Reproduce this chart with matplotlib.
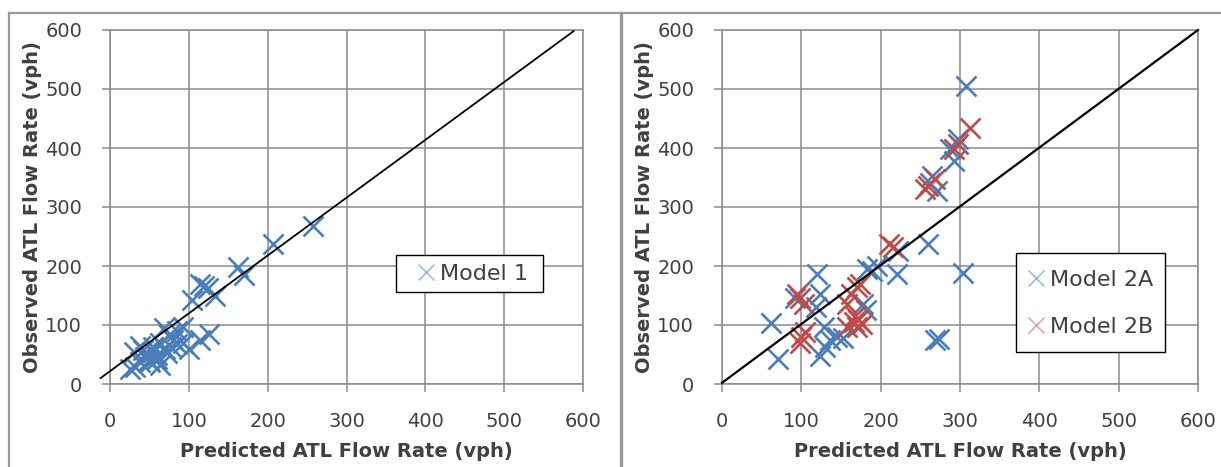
import matplotlib
matplotlib.use("Agg")
import matplotlib.pyplot as plt
from matplotlib.lines import Line2D
from matplotlib.patches import Rectangle

plt.rcParams['font.family'] = ['DejaVu Sans']

# ---- data ----
m1_x = [258, 207, 162, 170, 114, 119, 124, 133, 104,
        125, 114, 100, 93, 85, 93, 68, 75, 80, 63, 55, 38, 30, 46, 59, 72,
        38, 51, 25, 32, 63, 45, 55, 70, 85, 42, 50, 60, 78]
m1_y = [268, 238, 198, 185, 170, 166, 162, 150, 143,
        84, 74, 60, 70, 90, 97, 95, 83, 75, 70, 63, 65, 55, 52, 49, 52,
        38, 38, 25, 28, 33, 45, 55, 60, 68, 58, 40, 42, 62]

m2a_x = [307, 298, 292, 287, 265, 271, 262,
         260, 222, 220, 304, 189, 196,
         269, 273,
         62, 70, 120, 92, 124, 119, 128, 123, 136, 145, 153, 130, 183, 178, 182]
m2a_y = [505, 415, 378, 398, 353, 327, 340,
         237, 226, 187, 188, 192, 200,
         74, 77,
         103, 42, 187, 145, 153, 130, 97, 48, 74, 80, 78, 63, 195, 135, 125]

m2b_x = [313, 297, 292, 256, 260, 268, 210, 215,
         98, 103, 95, 100, 98, 105,
         163, 170, 174, 157, 166, 172, 170, 176, 157, 168]
m2b_y = [434, 406, 398, 330, 336, 347, 237, 233,
         145, 136, 153, 80, 70, 88,
         153, 164, 170, 136, 105, 108, 97, 102, 97, 115]

ticks = [0, 100, 200, 300, 400, 500, 600]
line1_x = [-12, 588]
line1_y = [10, 598]
line2_x = [0, 600]
line2_y = [2, 600]

BLUE = '#4a7ebb'
RED = '#be4b48'
GRID = '#8c8c8c'
TXT = '#404040'

W, H = 1221, 467
fig = plt.figure(figsize=(W / 100, H / 100), dpi=100)
fig.patch.set_facecolor('white')


def setup(ax):
    ax.set_xlim(0, 600)
    ax.set_ylim(0, 600)
    ax.set_xticks(ticks)
    ax.set_yticks(ticks)
    ax.grid(True, color=GRID, lw=1.1)
    ax.set_axisbelow(True)
    for s in ax.spines.values():
        s.set_color(GRID)
        s.set_linewidth(1.1)
    ax.tick_params(direction='out', length=6, width=1.1, color=GRID,
                   labelsize=14, labelcolor=TXT)
    ax.tick_params(axis='y', pad=14)
    ax.tick_params(axis='x', pad=14)
    ax.set_xlabel('Predicted ATL Flow Rate (vph)', fontsize=14,
                  fontweight='bold', color=TXT, labelpad=8)
    ax.set_ylabel('Observed ATL Flow Rate (vph)', fontsize=14,
                  fontweight='bold', color=TXT, labelpad=2)


def ax_rect(x0, x1, y0, y1):
    return [x0 / W, 1 - y1 / H, (x1 - x0) / W, (y1 - y0) / H]


def fig_pt(px, py):
    return (px / W, 1 - py / H)


def frame_box(x0, x1, y0, y1):
    fig.add_artist(Rectangle(fig_pt(x0, y1), (x1 - x0) / W, (y1 - y0) / H,
                             transform=fig.transFigure, facecolor='white',
                             edgecolor='black', lw=1.0, zorder=5))


ms = 14
mew = 1.9
FS_LEG = 16
HL = 1.2
em = FS_LEG * 100 / 72

ax1 = fig.add_axes(ax_rect(110, 583, 30, 384))
setup(ax1)
ax1.plot(m1_x, m1_y, ls='none', marker='x', ms=ms, mew=mew, color=BLUE,
         clip_on=False, zorder=3)
ax1.plot(line1_x, line1_y, color='black', lw=1.3, clip_on=False, zorder=4)

ax2 = fig.add_axes(ax_rect(722, 1198, 30, 384))
setup(ax2)
ax2.plot(m2a_x, m2a_y, ls='none', marker='x', ms=ms, mew=mew, color=BLUE,
         clip_on=False, zorder=3)
ax2.plot(m2b_x, m2b_y, ls='none', marker='x', ms=ms, mew=mew, color=RED,
         clip_on=False, zorder=3)
ax2.plot(line2_x, line2_y, color='black', lw=1.6, clip_on=False, zorder=4)

# legend frames
frame_box(396, 543, 255, 292)
frame_box(1016, 1165, 253, 352)

h1 = Line2D([], [], ls='none', marker='x', ms=12, mew=1.0, color='#8db3e2')
leg1 = fig.legend([h1], ['Model 1'], loc='center left',
                  bbox_to_anchor=fig_pt(426 - HL * em / 2, 273.5),
                  fontsize=FS_LEG, frameon=False,
                  handlelength=HL, handletextpad=0.05, borderpad=0,
                  borderaxespad=0, labelcolor=TXT)
leg1.set_zorder(10)

h2a = Line2D([], [], ls='none', marker='x', ms=12, mew=1.0, color='#8db3e2')
h2b = Line2D([], [], ls='none', marker='x', ms=12, mew=1.0, color='#e09a98')
leg2 = fig.legend([h2a, h2b], ['Model 2A', 'Model 2B'], loc='center left',
                  bbox_to_anchor=fig_pt(1036 - HL * em / 2, 303.5),
                  fontsize=FS_LEG, frameon=False,
                  handlelength=HL, handletextpad=0.05, borderpad=0,
                  labelspacing=1.2, borderaxespad=0, labelcolor=TXT)
leg2.set_zorder(10)

# chart borders
BORDER = '#999999'
fig.add_artist(Line2D([9 / W, 9 / W], [0, 1 - 12.5 / H], transform=fig.transFigure,
                      color=BORDER, lw=1.6))
fig.add_artist(Line2D([9 / W, 1], [1 - 12.5 / H, 1 - 12.5 / H], transform=fig.transFigure,
                      color=BORDER, lw=1.6))
fig.add_artist(Line2D([621 / W, 621 / W], [0, 1 - 12.5 / H], transform=fig.transFigure,
                      color=BORDER, lw=2.4))

fig.savefig('out.png', dpi=100, facecolor='white')
